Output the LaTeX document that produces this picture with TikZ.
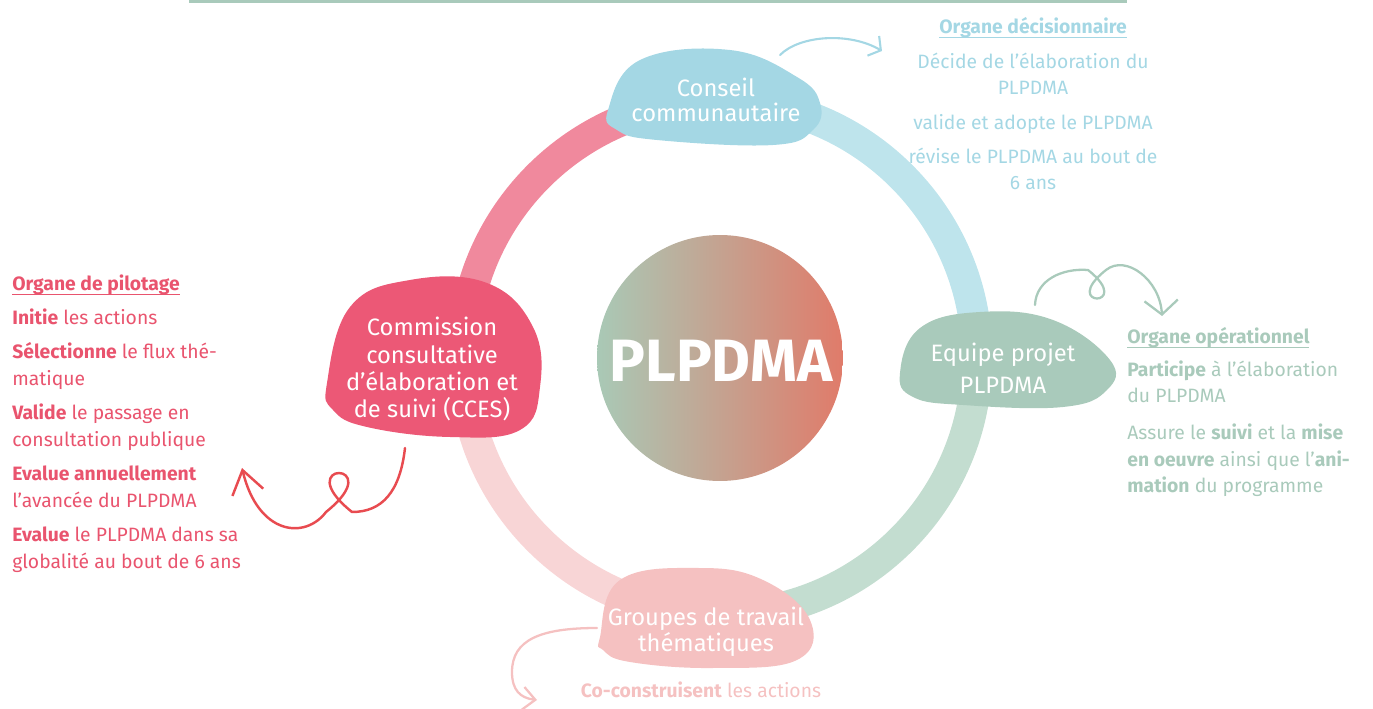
\documentclass[tikz,border=0pt]{standalone}
\usepackage{fontspec}
\setmainfont{Fira Sans}
\usepackage{tikz}
\usetikzlibrary{arrows.meta, positioning, calc}
\definecolor{ccesRed}{HTML}{EC5876}
\definecolor{pilotText}{HTML}{E9546E}
\definecolor{arrowRed}{HTML}{E84B50}
\definecolor{ringRose}{HTML}{F0899D}
\definecolor{consBlue}{HTML}{A4D7E4}
\definecolor{ringBlue}{HTML}{BEE4EC}
\definecolor{equGreen}{HTML}{A9CABB}
\definecolor{ringGreen}{HTML}{C3DDD0}
\definecolor{grpPink}{HTML}{F5C1C1}
\definecolor{ringPink}{HTML}{F8D5D6}
\definecolor{gradGreen}{HTML}{A9C9B6}
\definecolor{gradCoral}{HTML}{E07B6A}
\newcommand{\orgtitle}[1]{\setbox0\hbox{\bfseries #1}\rlap{\rule[-2.6pt]{\wd0}{0.6pt}}\box0}

\begin{document}
\begin{tikzpicture}[x=0.02cm, y=-0.02cm,
	ringseg/.style={line width=0.62cm},
	blobtext/.style={text=white, align=center, inner sep=0pt, font=\fontsize{13.5}{15.4}\selectfont},
	infotext/.style={inner sep=0pt, font=\fontsize{11}{15.1}\selectfont},
	sketch/.style={line width=1.3pt, line cap=round, line join=round}]
						\useasboundingbox (0,0) rectangle (1373,709);
						\draw[equGreen, line width=0.06cm] (189,1.5) -- (1127,1.5);
						\coordinate (ctr) at (720,358);
						\coordinate (consC) at (716,97);
						\coordinate (equC) at (1005,360);
						\coordinate (ccesC) at (433,360);
						\coordinate (grpC) at (706,617);
						\draw[ringseg, ringBlue] ([shift={(0:5.14cm)}]ctr) arc[start angle=0, end angle=90, radius=5.14cm];
						\draw[ringseg, ringRose] ([shift={(90:5.14cm)}]ctr) arc[start angle=90, end angle=180, radius=5.14cm];
						\draw[ringseg, ringPink] ([shift={(180:5.14cm)}]ctr) arc[start angle=180, end angle=270, radius=5.14cm];
						\draw[ringseg, ringGreen] ([shift={(270:5.14cm)}]ctr) arc[start angle=270, end angle=360, radius=5.14cm];
						\shade[left color=gradGreen, right color=gradCoral] (ctr) circle[radius=2.46cm];
						\fill[consBlue, shift={(consC)}] plot[smooth cycle, tension=0.7] coordinates {(-108,13) (-76,-37) (14,-47) (81,-20) (104,6) (97,33) (57,48) (-59,43) (-99,33)};
						\fill[equGreen, shift={(equC)}] plot[smooth cycle, tension=0.7] coordinates {(-105,13) (-85,-32) (-25,-48) (48,-40) (105,0) (102,30) (58,47) (-42,45) (-92,37)};
						\fill[ccesRed, shift={(ccesC)}] plot[smooth cycle, tension=0.7] coordinates {(-106,23) (-83,-53) (-23,-80) (54,-77) (100,-33) (107,27) (87,70) (17,77) (-66,67) (-100,50)};
						\fill[grpPink, shift={(grpC)}] plot[smooth cycle, tension=0.7] coordinates {(-106,20) (-86,-37) (-7,-49) (57,-37) (104,3) (91,43) (7,51) (-76,45) (-103,33)};
						\node[text=white, font=\fontsize{34}{36}\bfseries] (plpdma) at (721,361) {PLPDMA};
						\node[blobtext, font=\fontsize{13.5}{14.2}\selectfont] (cons) at (716,100) {Conseil\\communautaire};
						\node[blobtext, font=\fontsize{13.5}{18}\selectfont] (equ) at (1003,368) {Equipe projet\\PLPDMA};
						\node[blobtext] (cces) at (432,369) {Commission\\consultative\\d’élaboration et\\de suivi (CCES)};
						\node[blobtext, font=\fontsize{13.5}{12.5}\selectfont] (grp) at (706,632) {Groupes de travail\\thématiques};
						\node[infotext, text=pilotText, align=left, anchor=base west] (pilot) at (12,568) {\orgtitle{Organe de pilotage}\\[4pt]
							\textbf{Initie} les actions\\[4.5pt]
							\textbf{Sélectionne} le flux thé-\\matique\\[4.5pt]
							\textbf{Valide} le passage en\\consultation publique\\[4.5pt]
							\textbf{Evalue annuellement}\\l’avancée du PLPDMA\\[4.5pt]
							\textbf{Evalue} le PLPDMA dans sa\\globalité au bout de 6 ans};
						\node[infotext, text=consBlue, align=center, anchor=base] (deci) at (1033,190) {\orgtitle{Organe décisionnaire}\\[4.5pt]
							Décide de l’élaboration du\\PLPDMA\\[4.5pt]
							valide et adopte le PLPDMA\\[4.5pt]
							révise le PLPDMA au bout de\\6 ans};
						\node[infotext, text=equGreen, align=left, anchor=base west] (oper) at (1127,493) {\orgtitle{Organe opérationnel}\\[3.5pt]
							\textbf{Participe} à l’élaboration\\du PLPDMA\\[6pt]
							Assure le \textbf{suivi} et la \textbf{mise}\\\textbf{en oeuvre} ainsi que l’\textbf{ani-}\\\textbf{mation} du programme};
						\node[infotext, text=grpPink, anchor=base] (coact) at (701,697) {\textbf{Co-construisent} les actions};
						\coordinate (consOut) at (780,55);
						\coordinate (deciTip) at (882,51);
						\coordinate (equOut) at (1035,305);
						\coordinate (operTip) at (1162,316);
						\coordinate (ccesOut) at (405,448);
						\coordinate (pilotTip) at (242,468);
						\coordinate (grpOut) at (597,628);
						\coordinate (coactTip) at (537,700);
						\draw[sketch, consBlue, line width=1.2pt, -{Straight Barb[length=5pt, width=13pt]}]
						(consOut) .. controls (800,35) and (850,32) .. (deciTip);
						\draw[sketch, equGreen, -{Straight Barb[length=8pt, width=19pt]}]
						(equOut) .. controls (1036,280) and (1062,268) .. (1088,270)
						.. controls (1136,308) and (1058,308) .. (1106,270)
						.. controls (1126,254) and (1160,280) .. (operTip);
						\draw[sketch, arrowRed, line width=1.4pt, -{Straight Barb[length=13pt, width=18pt]}]
						(ccesOut) .. controls (400,492) and (382,512) .. (352,512)
						.. controls (287,460) and (391,460) .. (326,512)
						.. controls (305,540) and (258,535) .. (pilotTip);
						\draw[sketch, grpPink, -{Straight Barb[length=7pt, width=13pt]}]
						(grpOut) .. controls (540,628) and (512,640) .. (512,672)
						.. controls (512,690) and (520,698) .. (coactTip);
					\end{tikzpicture}
\end{document}
